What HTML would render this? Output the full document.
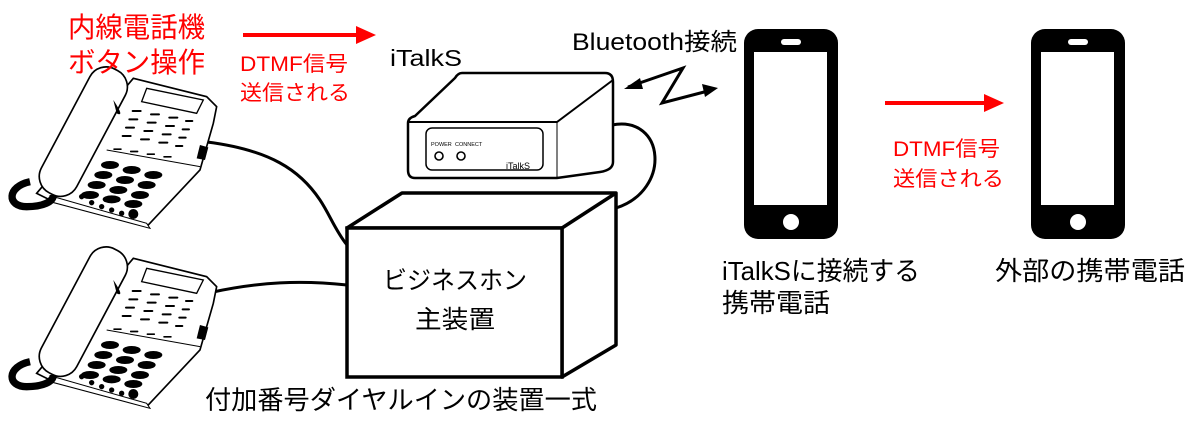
<!DOCTYPE html>
<html><head><meta charset="utf-8"><style>
html,body{margin:0;padding:0;background:#fff;}
svg{display:block;}
text{font-family:"Liberation Sans","Noto Sans CJK JP",sans-serif;}
</style></head><body>
<svg width="1200" height="433" viewBox="0 0 1200 433" xmlns="http://www.w3.org/2000/svg">
<defs>
<g id="tel">
  <polygon points="110,400 400,55 620,110 650,140 640,190 600,330 440,500 150,420" fill="#fff" stroke="#000" stroke-width="5"/>
  <polygon points="160,410 440,490 450,505 150,425" fill="#fff" stroke="#000" stroke-width="3"/>
  <path d="M320,270 L600,320" fill="none" stroke="#000" stroke-width="3"/>
  <path d="M90,365 C20,380 20,440 80,440 C130,440 160,425 160,405" fill="none" stroke="#000" stroke-width="22"/>
  <rect x="40" y="155" width="420" height="120" rx="55" transform="rotate(-62 250 215)" fill="#fff" stroke="#000" stroke-width="5"/>
  <path d="M340,120 C360,150 370,170 350,160" fill="#000"/>
  <polygon points="440,85 610,120 590,160 425,125" fill="#fff" stroke="#000" stroke-width="4"/>
  <polygon points="600,255 625,262 615,300 590,295" fill="#000"/>
  <g fill="#000">
    <rect x="395" y="150" width="30" height="6" rx="3"/><rect x="450" y="160" width="30" height="6" rx="3"/><rect x="505" y="170" width="30" height="6" rx="3"/><rect x="555" y="180" width="25" height="6" rx="3"/>
    <rect x="385" y="175" width="30" height="6" rx="3"/><rect x="440" y="185" width="30" height="6" rx="3"/><rect x="495" y="195" width="30" height="6" rx="3"/><rect x="545" y="205" width="25" height="6" rx="3"/>
    <rect x="375" y="200" width="30" height="6" rx="3"/><rect x="430" y="210" width="30" height="6" rx="3"/><rect x="485" y="220" width="30" height="6" rx="3"/><rect x="535" y="230" width="25" height="6" rx="3"/>
    <rect x="365" y="225" width="30" height="6" rx="3"/><rect x="420" y="235" width="30" height="6" rx="3"/><rect x="475" y="245" width="30" height="6" rx="3"/><rect x="525" y="255" width="25" height="6" rx="3"/>
    <rect x="340" y="265" width="25" height="5" rx="2"/><rect x="390" y="272" width="25" height="5" rx="2"/><rect x="440" y="280" width="25" height="5" rx="2"/><rect x="490" y="288" width="25" height="5" rx="2"/>
    <ellipse cx="330" cy="315" rx="27" ry="12"/><ellipse cx="395" cy="330" rx="27" ry="12"/><ellipse cx="460" cy="345" rx="27" ry="12"/>
    <ellipse cx="310" cy="345" rx="27" ry="12"/><ellipse cx="375" cy="360" rx="27" ry="12"/><ellipse cx="440" cy="375" rx="27" ry="12"/>
    <ellipse cx="290" cy="375" rx="27" ry="12"/><ellipse cx="355" cy="390" rx="27" ry="12"/><ellipse cx="420" cy="405" rx="27" ry="12"/>
    <ellipse cx="270" cy="405" rx="27" ry="12"/><ellipse cx="335" cy="418" rx="27" ry="12"/><ellipse cx="400" cy="432" rx="27" ry="12"/>
    <circle cx="245" cy="410" r="8"/><circle cx="275" cy="428" r="8"/><circle cx="305" cy="440" r="8"/><circle cx="335" cy="450" r="8"/><circle cx="365" cy="460" r="8"/><circle cx="400" cy="462" r="15"/>
  </g>
</g>
<g id="mob">
  <rect x="0" y="0" width="94" height="210" rx="14" fill="#000"/>
  <rect x="10" y="23" width="73" height="153" fill="#fff"/>
  <rect x="37" y="10" width="20" height="6" rx="3" fill="#fff"/>
  <circle cx="47" cy="193" r="8" fill="#fff"/>
</g>
</defs>

<path d="M207,142 C270,150 300,170 320,200 C330,215 335,230 347,245" fill="none" stroke="#000" stroke-width="3"/>
<path d="M213,292 C260,282 300,280 347,285" fill="none" stroke="#000" stroke-width="3"/>
<path d="M612,125 C665,115 672,190 616,208" fill="none" stroke="#000" stroke-width="3"/>

<use href="#tel" transform="translate(0,60) scale(0.3333)"/>
<use href="#tel" transform="translate(0,240) scale(0.3333)"/>

<path d="M462,73 L605,73 Q613,73 613,82 L613,162 Q613,170 600,172 L557,178 L415,178 Q408,178 408,170 L408,123 Q408,118 415,116 L455,78 Q458,73 462,73 Z" fill="#fff" stroke="#000" stroke-width="2.5"/>
<path d="M408,122 L557,122 L613,80" fill="none" stroke="#000" stroke-width="2"/>
<line x1="557" y1="122" x2="557" y2="178" stroke="#000" stroke-width="1"/>
<rect x="426" y="128" width="117" height="42" rx="6" fill="none" stroke="#000" stroke-width="1.5"/>
<text x="431" y="146" font-size="5.5">POWER</text>
<text x="455" y="146" font-size="5.5">CONNECT</text>
<circle cx="439" cy="156" r="4" fill="none" stroke="#000" stroke-width="1.6"/>
<circle cx="461" cy="156" r="4" fill="none" stroke="#000" stroke-width="1.6"/>
<text x="506" y="169" font-size="9">iTalkS</text>

<path d="M628,87 L683,68 L662,103 L708,91" fill="none" stroke="#000" stroke-width="3"/>
<polygon points="624,89 640,78 643,89" fill="#000"/>
<polygon points="718,88 702,84 705,97" fill="#000"/>

<polygon points="347,228 402,193 616,193 616,345 562,377 562,228" fill="#fff" stroke="#000" stroke-width="3.5" stroke-linejoin="round"/>
<line x1="562" y1="228" x2="616" y2="193" stroke="#000" stroke-width="3.5"/>
<rect x="347" y="228" width="215" height="149" fill="#fff" stroke="#000" stroke-width="3.5"/>
<text x="383" y="289" font-size="25" textLength="144" lengthAdjust="spacingAndGlyphs">ビジネスホン</text>
<text x="415" y="328" font-size="25" textLength="80" lengthAdjust="spacingAndGlyphs">主装置</text>

<use href="#mob" transform="translate(744,29)"/>
<use href="#mob" transform="translate(1031,29)"/>

<line x1="243" y1="35" x2="358" y2="35" stroke="#f00" stroke-width="4"/>
<polygon points="376,35 356,26 356,44" fill="#f00"/>
<line x1="885" y1="103" x2="986" y2="103" stroke="#f00" stroke-width="4"/>
<polygon points="1004,103 984,94 984,112" fill="#f00"/>

<g fill="#f00">
<text x="68" y="37" font-size="28" textLength="137" lengthAdjust="spacingAndGlyphs">内線電話機</text>
<text x="68" y="72" font-size="28" textLength="137" lengthAdjust="spacingAndGlyphs">ボタン操作</text>
<text x="240" y="71" font-size="21" textLength="108" lengthAdjust="spacingAndGlyphs">DTMF信号</text>
<text x="240" y="100" font-size="21" textLength="110" lengthAdjust="spacingAndGlyphs">送信される</text>
<text x="893" y="156" font-size="21" textLength="107" lengthAdjust="spacingAndGlyphs">DTMF信号</text>
<text x="893" y="186" font-size="21" textLength="111" lengthAdjust="spacingAndGlyphs">送信される</text>
</g>
<text x="390" y="66" font-size="23" textLength="72" lengthAdjust="spacingAndGlyphs">iTalkS</text>
<text x="572" y="50" font-size="24" textLength="165" lengthAdjust="spacingAndGlyphs">Bluetooth接続</text>
<text x="722" y="280" font-size="26" textLength="198" lengthAdjust="spacingAndGlyphs">iTalkSに接続する</text>
<text x="722" y="312" font-size="26" textLength="108" lengthAdjust="spacingAndGlyphs">携帯電話</text>
<text x="995" y="280" font-size="26" textLength="190" lengthAdjust="spacingAndGlyphs">外部の携帯電話</text>
<text x="205" y="409" font-size="26" textLength="392" lengthAdjust="spacingAndGlyphs">付加番号ダイヤルインの装置一式</text>
</svg>
</body></html>
